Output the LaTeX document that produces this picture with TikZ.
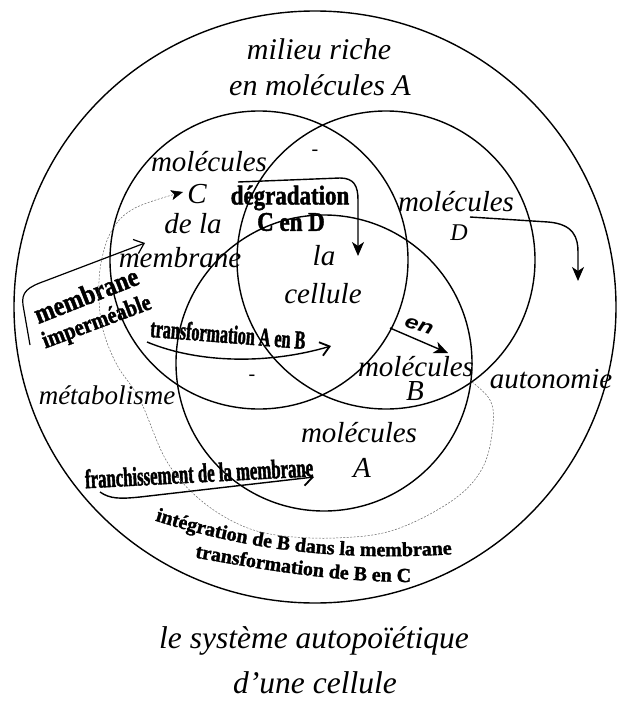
\documentclass[tikz,border=0pt]{standalone}
\usepackage{fontspec}
\setmainfont{Liberation Serif}
\newfontfamily\sansf{Liberation Sans}
\newfontfamily\condf{Liberation Serif}[UprightFont={* Bold}, FakeStretch=0.62, FakeBold=1.5]
\newfontfamily\narrowf{Liberation Serif}[UprightFont={* Bold}, FakeStretch=0.85, FakeBold=1.5]
\newfontfamily\widef{Liberation Serif}[UprightFont={* Bold}, FakeStretch=1.0, FakeBold=1.5]
\usepackage{graphicx}
\usetikzlibrary{arrows.meta,decorations.text}
\newcommand\fs[1]{\fontsize{#1}{#1}\selectfont}
\begin{document}
\begin{tikzpicture}[x=1pt,y=-1pt,
  circ/.style={line width=1.4pt},
  it/.style={font=\fs{29}\itshape, inner sep=0pt},
  bd/.style={inner sep=0pt},
  arr/.style={line width=1.4pt},
  dashline/.style={line width=0.5pt, black!60, dash pattern=on 2pt off 1.5pt},
  barb/.style={-{Straight Barb[length=9pt,width=15pt]}},
  stl/.style={-{Stealth[length=14pt,width=12pt,inset=4pt]}}]
\useasboundingbox (0,0) rectangle (618,704);
% circles
\draw[circ] (315,307) ellipse [x radius=301pt, y radius=296pt];
\draw[circ] (259,260) circle [radius=149pt];
\draw[circ] (386,260) circle [radius=149pt];
\draw[circ] (324,363) circle [radius=148pt];
% italic labels
\node[it, font=\fs{30}\itshape] (milieu) at (319,49) {milieu riche};
\node[it, font=\fs{30}\itshape] (enmolA) at (320,85) {en molécules A};
\node[it] (molC) at (209,162) {molécules};
\node[it] (C) at (197,194) {C};
\node[it] (dela) at (193,224) {de la};
\node[it] (membr) at (180,258) {membrane};
\node[it] (molD) at (456,202) {molécules};
\node[it, font=\fs{24}\itshape] (D) at (459,233) {D};
\node[it] (la) at (324,256) {la};
\node[it] (cellule) at (323,294) {cellule};
\node[it] (molB) at (416,367) {molécules};
\node[it] (B) at (415,391) {B};
\node[it, font=\fs{27}\itshape] (metab) at (107,395) {métabolisme};
\node[it] (auto) at (551,379) {autonomie};
\node[it] (molA) at (359,433) {molécules};
\node[it] (A) at (362,468) {A};
\node[it, font=\fs{31.5}\itshape] (titre1) at (314,641) {le système autopoïétique};
\node[it, font=\fs{31.5}\itshape] (titre2) at (315,683) {d’une cellule};
\node[inner sep=0pt, font=\fs{20}] (tiret1) at (315,153) {-};
\node[inner sep=0pt, font=\fs{20}] (tiret2) at (252,378) {-};
% bold labels
\node[bd, font=\fs{27}\narrowf] (degr) at (290,198) {dégradation};
\node[bd, font=\fs{27}\narrowf] (CenD) at (291,222) {C en D};
\node[bd, font=\fs{28}\narrowf, rotate=21.5] (mimp1) at (86,295) {membrane};
\node[bd, font=\fs{24}\narrowf, rotate=20.5] (mimp2) at (97,323) {imperméable};
\node[bd, font=\fs{26}\condf, rotate=-4.5] (transf) at (228,334) {transformation A en B};
\node[inner sep=0pt, rotate=-18] (en) at (419,326) {\scalebox{1.3}[1]{\sansf\bfseries\itshape\fs{19}en}};
\node[bd, font=\fs{27}\condf, rotate=3] (franch) at (199,473) {franchissement de la membrane};
\path[decorate, decoration={text along path, text align=center,
  text={|\fs{20}\widef|intégration de B dans la membrane}}]
  (150,519) .. controls (240,548) and (330,562) .. (457,554);
\path[decorate, decoration={text along path, text align=center,
  text={|\fs{20}\widef|transformation de B en C}}]
  (186,556) .. controls (250,567) and (330,583) .. (420,582);
% arrow coordinates
\coordinate (mi1) at (30,345);
\coordinate (mi2) at (145,243);
\coordinate (dg1) at (238,182);
\coordinate (dg2) at (358,256);
\coordinate (dd1) at (470,217);
\coordinate (dd2) at (578,281);
\coordinate (tr1) at (147,342);
\coordinate (tr2) at (331,346);
\coordinate (en1) at (390,328);
\coordinate (en2) at (448,353);
\coordinate (fr1) at (100,492);
\coordinate (fr2) at (314,477);
\coordinate (ds1) at (472,382);
\coordinate (ds2) at (183,192);
% arrows
\draw[arr, line width=1.2pt, barb] (mi1) -- (23,305) .. controls (21,292) and (28,287) .. (45,281) -- (mi2);
\draw[arr, stl] (dg1) -- (340,178) .. controls (354,178) and (358,186) .. (358,200) -- (dg2);
\draw[arr, stl] (dd1) -- (548,222) .. controls (574,224) and (578,238) .. (578,252) -- (dd2);
\draw[arr, -{Straight Barb[length=9pt,width=14pt,line width=1.8pt]}] (tr1) .. controls (200,364) and (270,364) .. (tr2);
\draw[arr, stl] (en1) -- (en2);
\draw[arr, -{Straight Barb[length=9pt,width=15pt,line width=1.8pt]}] (fr1) .. controls (110,499) and (120,499) .. (140,497) -- (fr2);
\draw[dashline, -{Stealth[black,length=12pt,width=10pt,inset=3pt]}] plot[smooth, tension=0.6] coordinates {(ds1) (490,400) (493,425) (483,467) (453,500) (394,530) (335,538) (276,535) (236,523) (197,497) (166,460) (140,400) (117,365) (103,330) (99,297) (101,263) (112,230) (135,208) (ds2)};
\end{tikzpicture}
\end{document}
